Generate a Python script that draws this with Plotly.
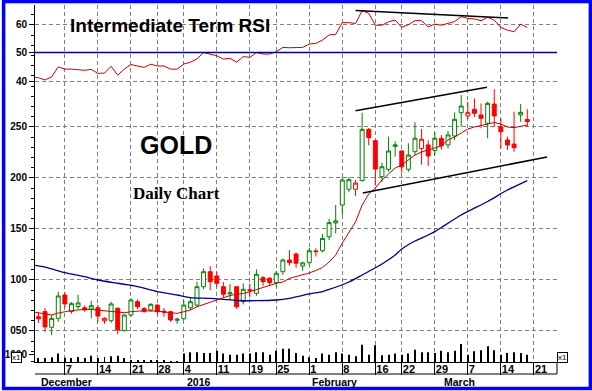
import plotly.graph_objects as go

# ---------------- data ----------------
trading_days = [
    "2015-11-30",
    "2015-12-01", "2015-12-02", "2015-12-03", "2015-12-04",
    "2015-12-07", "2015-12-08", "2015-12-09", "2015-12-10", "2015-12-11",
    "2015-12-14", "2015-12-15", "2015-12-16", "2015-12-17", "2015-12-18",
    "2015-12-21", "2015-12-22", "2015-12-23", "2015-12-24",
    "2015-12-28", "2015-12-29", "2015-12-30", "2015-12-31",
    "2016-01-04", "2016-01-05", "2016-01-06", "2016-01-07", "2016-01-08",
    "2016-01-11", "2016-01-12", "2016-01-13", "2016-01-14", "2016-01-15",
    "2016-01-19", "2016-01-20", "2016-01-21", "2016-01-22",
    "2016-01-25", "2016-01-26", "2016-01-27", "2016-01-28", "2016-01-29",
    "2016-02-01", "2016-02-02", "2016-02-03", "2016-02-04", "2016-02-05",
    "2016-02-08", "2016-02-09", "2016-02-10", "2016-02-11", "2016-02-12",
    "2016-02-16", "2016-02-17", "2016-02-18", "2016-02-19",
    "2016-02-22", "2016-02-23", "2016-02-24", "2016-02-25", "2016-02-26",
    "2016-02-29", "2016-03-01", "2016-03-02", "2016-03-03", "2016-03-04",
    "2016-03-07", "2016-03-08", "2016-03-09", "2016-03-10", "2016-03-11",
    "2016-03-14", "2016-03-15", "2016-03-16", "2016-03-17", "2016-03-18",
]
future_days = ["2016-03-21"]

opens = [1058, 1064, 1069, 1053.6, 1062.4, 1085.3, 1069, 1074, 1072.8, 1071.6,
         1072.8, 1060, 1060.1, 1072.3, 1050.3, 1065.7, 1078.8, 1072, 1070.6, 1075.4,
         1069.5, 1068.9, 1060.5, 1062, 1072.8, 1075.4, 1093.4, 1108.1, 1104, 1093.4,
         1086.4, 1093.4, 1078.7, 1090.5, 1087, 1102.3, 1101.7, 1097.4, 1108.1, 1119.6,
         1125.5, 1113.7, 1117, 1128.5, 1128.7, 1142.4, 1156, 1173.5, 1189, 1189,
         1197.4, 1247.7, 1236.6, 1201.3, 1208.5, 1231, 1226.5, 1208.5, 1225.8, 1229,
         1232.4, 1227, 1238.9, 1232.4, 1241.2, 1264, 1260.8, 1267.4, 1261.8, 1253.6,
         1272.5, 1250.3, 1237.3, 1233.3, 1261.8, 1257.5]
highs = [1067, 1068, 1072.5, 1065.7, 1088.5, 1088, 1078.4, 1085.6, 1075, 1079.7,
         1075.6, 1063.5, 1078.7, 1073.2, 1066, 1082, 1081, 1073.5, 1077, 1076,
         1072.5, 1070, 1063, 1080, 1083, 1098.3, 1111.4, 1113.7, 1108, 1098,
         1096, 1094, 1096.8, 1096.5, 1110.5, 1104, 1103, 1109, 1121, 1129.4,
         1127, 1118, 1131.5, 1131, 1145, 1160, 1173.5, 1200.7, 1200.7, 1198,
         1264, 1249, 1237, 1215, 1240.5, 1236, 1227, 1234, 1254.6, 1248,
         1237, 1245, 1242, 1246, 1264.4, 1281.4, 1274.8, 1278, 1273, 1274.8,
         1287, 1258.5, 1240.5, 1265, 1272.5, 1267.4]
lows = [1055, 1058, 1049, 1046, 1059, 1073, 1067, 1071.4, 1069, 1062.5,
        1058.7, 1057, 1058, 1047, 1049.6, 1064, 1071.5, 1068, 1069, 1066,
        1064, 1059, 1057, 1060.8, 1070.6, 1073.8, 1091, 1090, 1093, 1083,
        1081, 1071.6, 1076, 1083, 1084.5, 1094, 1094, 1093, 1105, 1114,
        1112, 1109, 1114.6, 1123, 1127, 1139, 1145.8, 1163.7, 1186, 1182.5,
        1196.5, 1232, 1192.5, 1196, 1206, 1221, 1205, 1206, 1222.5, 1213,
        1211.8, 1222, 1228, 1229, 1237, 1250.3, 1257.5, 1259.8, 1248.7, 1239,
        1250, 1229, 1227.5, 1225.8, 1255, 1250.3]
closes = [1064, 1062, 1054, 1062.4, 1084.3, 1076.5, 1076.8, 1077.5, 1070.6, 1074.8,
          1064.7, 1062.5, 1076.5, 1051, 1065.7, 1080.4, 1073.8, 1069, 1076.2, 1068.9,
          1068.6, 1060.8, 1061.5, 1075.4, 1078.7, 1093.4, 1108.1, 1098.3, 1096.8, 1086,
          1087.5, 1073.8, 1090.9, 1089.6, 1105.6, 1098.3, 1097.4, 1106.6, 1119.6, 1117,
          1116.4, 1116.8, 1128.7, 1127.8, 1140.8, 1156.2, 1158, 1198, 1198.3, 1195,
          1247.7, 1239.5, 1208.8, 1211, 1226.5, 1232.5, 1211, 1222.5, 1239, 1238,
          1221.6, 1239, 1231.7, 1242.2, 1257.5, 1270.6, 1264, 1263.4, 1258.5, 1273.2,
          1260.8, 1245.4, 1232.4, 1229.7, 1264.4, 1255.2]

short_ma = [1068.9, 1067.9, 1067.3, 1065.7, 1067.6, 1069.1, 1070.1, 1070.6, 1071.3, 1071.1,
            1070.6, 1070.1, 1069.6, 1068.9, 1067.9, 1068.9, 1069.6, 1069.9, 1069.6, 1069.6,
            1068.6, 1067.6, 1067.3, 1068.9, 1070.6, 1073.8, 1076, 1078.9, 1080.9, 1083,
            1084.8, 1086, 1086.8, 1088.5, 1090.7, 1092.8, 1095.1, 1096.8, 1098, 1101.5,
            1103.4, 1104.9, 1106.9, 1109.3, 1112.3, 1117.6, 1124.5, 1136.3, 1147, 1156.9,
            1173.5, 1184.3, 1190.2, 1198, 1203.9, 1209.8, 1212.7, 1217.6, 1222.5, 1225.5,
            1227.5, 1229.1, 1231.4, 1237.3, 1240.2, 1244.1, 1248, 1250, 1251.5, 1252.9,
            1254.4, 1252.9, 1250, 1249.3, 1251, 1252]

long_ma_days = ["2015-11-30", "2015-12-02", "2015-12-07", "2015-12-10", "2015-12-14",
                "2015-12-17", "2015-12-22", "2015-12-28", "2015-12-31", "2016-01-05",
                "2016-01-08", "2016-01-12", "2016-01-14", "2016-01-20", "2016-01-25",
                "2016-01-27", "2016-02-01", "2016-02-03", "2016-02-04", "2016-02-09",
                "2016-02-11", "2016-02-17", "2016-02-19", "2016-02-22", "2016-02-24",
                "2016-02-26", "2016-02-29", "2016-03-01", "2016-03-04", "2016-03-10",
                "2016-03-15", "2016-03-18"]
long_ma = [1114.7, 1112.7, 1107.2, 1103.2, 1100, 1096.8, 1093.6, 1088.7, 1085.3, 1082.8,
           1082, 1081, 1079.9, 1079.7, 1080.4, 1082, 1086.3, 1088.7, 1090.7, 1098,
           1104.9, 1115.7, 1124.5, 1130.4, 1138.2, 1144.1, 1147.4, 1151.5, 1163.7, 1177,
           1188.2, 1197.5]

rsi = [41.3, 41.2, 40.4, 41.5, 45.0, 44.2, 44.2, 44.1, 43.8, 44.1,
       42.7, 42.8, 45.2, 42.1, 44.2, 45.8, 45.4, 44.8, 45.9, 45.3,
       45.3, 44.2, 44.2, 46.0, 46.6, 47.8, 50.0, 49.4, 48.9, 47.7,
       48.0, 46.6, 48.6, 48.3, 50.0, 49.5, 49.5, 50.3, 51.8, 51.7,
       51.7, 51.8, 53.0, 53.2, 54.4, 56.2, 56.4, 60.5, 60.5, 60.2,
       64.7, 63.8, 59.6, 59.6, 60.8, 61.4, 58.9, 59.8, 61.2, 61.2,
       59.0, 60.0, 59.6, 60.2, 60.9, 62.6, 62.0, 61.8, 61.2, 62.4,
       61.4, 58.8, 57.9, 57.3, 60.0, 58.8]

volume = [550, 500, 500, 580, 1050, 530, 500, 630, 500, 790,
          500, 630, 720, 790, 500, 170, 170, 170, 170, 170,
          130, 110, 90, 1050, 1210, 1210, 1120, 1120, 1420, 1050,
          910, 910, 1050, 1050, 1210, 1210, 910, 1420, 1670, 1670,
          1120, 790, 580, 500, 1050, 910, 1210, 1050, 910, 720,
          2170, 910, 2090, 840, 910, 1050, 910, 1050, 1540, 1210,
          1210, 1120, 1420, 1210, 1420, 2260, 910, 1330, 1460, 1960,
          1460, 910, 1120, 1210, 1120, 910]

week_tick_days = ["2015-11-30", "2015-12-07", "2015-12-14", "2015-12-21", "2015-12-28",
                  "2016-01-04", "2016-01-11", "2016-01-19", "2016-01-25", "2016-02-01",
                  "2016-02-08", "2016-02-16", "2016-02-22", "2016-02-29", "2016-03-07",
                  "2016-03-14", "2016-03-21"]
week_tick_labels = ["30", "7", "14", "21", "28", "4", "11", "19", "25", "1", "8", "16",
                    "22", "29", "7", "14", "21"]
month_tick_days = ["2015-12-01", "2016-01-04", "2016-02-01", "2016-03-01"]
month_tick_labels = ["December", "2016", "February", "March"]

price_ticks = [1050, 1100, 1150, 1200, 1250]
price_labels_left = ["050", "100", "150", "200", "250"]
price_labels_right = ["1050", "1100", "1150", "1200", "1250"]
rsi_ticks = [40, 50, 60]
rsi_labels = ["40", "50", "60"]
vol_ticks = [1000]
vol_labels = ["1000"]

# trend lines (trading-day position, value)
upper_channel = [(49.0, 1266), (68.9, 1289)]
lower_channel = [(50.1, 1185.3), (78.0, 1220.6)]
rsi_trend = [(49.0, 64.8), (72.1, 62.1)]

# ---------------- helpers ----------------
calendar = trading_days + future_days
pos = {d: i for i, d in enumerate(calendar)}
xs = list(range(len(trading_days)))

W, H = 592, 391
L, R, T, B = 33, 557, 5, 362


def xp(px):
    return (px - L) / (R - L)


def yp(py):
    return (B - py) / (B - T)


GREEN = "#008000"
RED = "#FF0000"
FONT = "Arial, Liberation Sans, sans-serif"

# split candles into 4 styles
groups = {"gh": [], "rh": [], "rf": [], "gf": []}
for i in xs:
    prev = closes[i - 1] if i > 0 else opens[i]
    up_day = closes[i] >= prev
    hollow = closes[i] > opens[i]
    key = ("g" if up_day else "r") + ("h" if hollow else "f")
    groups[key].append(i)

fig = go.Figure()

style = {
    "gh": dict(line=GREEN, fill="white"),
    "rh": dict(line=RED, fill="white"),
    "rf": dict(line=RED, fill=RED),
    "gf": dict(line=GREEN, fill=GREEN),
}

# volume
fig.add_trace(go.Bar(x=xs, y=volume, yaxis="y3", marker=dict(color="black", line=dict(width=0)),
                     width=0.15, showlegend=False, hoverinfo="skip"))

# long MA (blue)
fig.add_trace(go.Scatter(x=[pos[d] for d in long_ma_days], y=long_ma, mode="lines",
                         line=dict(color="#00008B", width=1.3, shape="spline", smoothing=0.6),
                         showlegend=False, hoverinfo="skip"))
# short MA (red)
fig.add_trace(go.Scatter(x=xs, y=short_ma, mode="lines",
                         line=dict(color="#CC0000", width=1),
                         showlegend=False, hoverinfo="skip"))

for key, idx in groups.items():
    if not idx:
        continue
    s = style[key]
    fig.add_trace(go.Candlestick(
        x=idx,
        open=[opens[i] for i in idx], high=[highs[i] for i in idx],
        low=[lows[i] for i in idx], close=[closes[i] for i in idx],
        increasing=dict(line=dict(color=s["line"], width=1), fillcolor=s["fill"]),
        decreasing=dict(line=dict(color=s["line"], width=1), fillcolor=s["fill"]),
        whiskerwidth=0, showlegend=False, hoverinfo="skip"))

# RSI
fig.add_trace(go.Scatter(x=xs, y=rsi, yaxis="y2", mode="lines",
                         line=dict(color="#CC0000", width=1), showlegend=False, hoverinfo="skip"))

tickfont = dict(family=FONT, size=10, color="black", weight="bold")
grid = dict(showgrid=True, gridcolor="#808080", griddash="4px,3px", gridwidth=1)

fig.update_layout(
    width=W, height=H,
    margin=dict(l=L, r=W - R, t=T, b=H - B),
    paper_bgcolor="white", plot_bgcolor="white",
    showlegend=False,
    boxgap=0.15,
    xaxis=dict(range=[0.48, 79.5], tickmode="array",
               tickvals=[pos[d] for d in week_tick_days], ticktext=week_tick_labels,
               ticks="outside", ticklen=12, tickcolor="black", tickwidth=1,
               ticklabelposition="outside right", ticklabelstandoff=-3,
               showline=True, linecolor="black", linewidth=1, zeroline=False,
               rangeslider=dict(visible=False),
               tickfont=dict(family=FONT, size=11, color="black", weight="bold"), **grid),
    xaxis2=dict(overlaying="x", matches="x", range=[0.48, 79.5], tickmode="array",
                tickvals=[pos[d] for d in month_tick_days], ticktext=["", "", "", ""],
                ticks="outside", ticklen=26, tickcolor="black", tickwidth=1,
                showgrid=False, showline=False, zeroline=False),
    yaxis=dict(range=[1019.6, 1369.6], tickmode="array", tickvals=price_ticks,
               ticktext=price_labels_left, ticks="outside", ticklen=5, tickcolor="black",
               minor=dict(dtick=10, ticks="outside", ticklen=3, tickcolor="black", showgrid=False),
               showline=True, linecolor="black", zeroline=False, tickfont=tickfont, **grid),
    yaxis2=dict(overlaying="y", range=[-58.6, 66.7], tickmode="array", tickvals=rsi_ticks,
                ticktext=rsi_labels, ticks="outside", ticklen=5, tickcolor="black",
                zeroline=False, tickfont=tickfont, **grid),
    yaxis3=dict(overlaying="y", range=[0, 44625], tickmode="array", tickvals=vol_ticks,
                ticktext=vol_labels, ticks="outside", ticklen=5, tickcolor="black",
                showgrid=False, zeroline=False, tickfont=tickfont),
    yaxis4=dict(overlaying="y", side="right", matches="y", tickmode="array",
                tickvals=price_ticks, ticktext=price_labels_right, ticks="outside", ticklen=4,
                tickcolor="black",
                minor=dict(dtick=10, ticks="outside", ticklen=3, tickcolor="black", showgrid=False),
                showline=True, linecolor="black", showgrid=False, zeroline=False, tickfont=tickfont),
    yaxis5=dict(overlaying="y", side="right", matches="y2", tickmode="array",
                tickvals=rsi_ticks, ticktext=rsi_labels, ticks="outside", ticklen=4,
                tickcolor="black", showgrid=False, zeroline=False, tickfont=tickfont),
    yaxis6=dict(overlaying="y", side="right", matches="y3", tickmode="array",
                tickvals=vol_ticks, ticktext=vol_labels, ticks="outside", ticklen=4,
                tickcolor="black", showgrid=False, zeroline=False, tickfont=tickfont),
)

shapes = [
    # RSI 50 line
    dict(type="line", xref="paper", x0=0, x1=1, yref="y2", y0=50, y1=50,
         line=dict(color="#000080", width=1.5)),
    # trend lines
    dict(type="line", xref="x", yref="y", x0=upper_channel[0][0], y0=upper_channel[0][1],
         x1=upper_channel[1][0], y1=upper_channel[1][1], line=dict(color="black", width=1.5)),
    dict(type="line", xref="x", yref="y", x0=lower_channel[0][0], y0=lower_channel[0][1],
         x1=lower_channel[1][0], y1=lower_channel[1][1], line=dict(color="black", width=1.5)),
    dict(type="line", xref="x", yref="y2", x0=rsi_trend[0][0], y0=rsi_trend[0][1],
         x1=rsi_trend[1][0], y1=rsi_trend[1][1], line=dict(color="black", width=1.5)),
    # separator between day and month rows
    dict(type="line", xref="paper", yref="paper", x0=xp(33), x1=xp(557), y0=yp(374), y1=yp(374),
         line=dict(color="black", width=1)),
    dict(type="line", xref="paper", yref="paper", x0=1, x1=1, y0=0, y1=yp(374),
         line=dict(color="black", width=1)),
    # blue frame
    dict(type="rect", xref="paper", yref="paper", x0=xp(1.5), x1=xp(590.5), y0=yp(388.5), y1=yp(1.5),
         line=dict(color="#0000FF", width=3.5), fillcolor="rgba(0,0,0,0)"),
]
fig.update_layout(shapes=shapes)

annotations = [
    dict(text="Intermediate Term RSI", x=xp(66), y=yp(25), xref="paper", yref="paper",
         xanchor="left", yanchor="middle", showarrow=False,
         font=dict(family=FONT, size=19, color="black", weight="bold")),
    dict(text="GOLD", x=xp(136), y=yp(145), xref="paper", yref="paper",
         xanchor="left", yanchor="middle", showarrow=False,
         font=dict(family=FONT, size=25, color="black", weight="bold")),
    dict(text="Daily Chart", x=xp(129), y=yp(193), xref="paper", yref="paper",
         xanchor="left", yanchor="middle", showarrow=False,
         font=dict(family="Times New Roman, Liberation Serif, serif", size=17, color="black",
                   weight="bold")),
    dict(text="x1", x=xp(14), y=yp(357), xref="paper", yref="paper", xanchor="center",
         yanchor="middle", showarrow=False, bgcolor="white", bordercolor="black",
         borderwidth=1, borderpad=0, font=dict(family=FONT, size=8, color="black")),
    dict(text="x1", x=xp(563), y=yp(357), xref="paper", yref="paper", xanchor="center",
         yanchor="middle", showarrow=False, bgcolor="white", bordercolor="black",
         borderwidth=1, borderpad=0, font=dict(family=FONT, size=8, color="black")),
]
# month labels, placed on the trading-day scale
for d, lbl in zip(month_tick_days, month_tick_labels):
    annotations.append(dict(text=lbl, x=pos[d], xref="x", y=yp(382), yref="paper",
                            xanchor="left", yanchor="middle", xshift=1, showarrow=False,
                            font=dict(family=FONT, size=10.5, color="black", weight="bold")))
fig.update_layout(annotations=annotations)

fig.write_html("out.html", config={"displayModeBar": False},
               post_script="document.body.style.margin='0';document.body.style.overflow='hidden';")
